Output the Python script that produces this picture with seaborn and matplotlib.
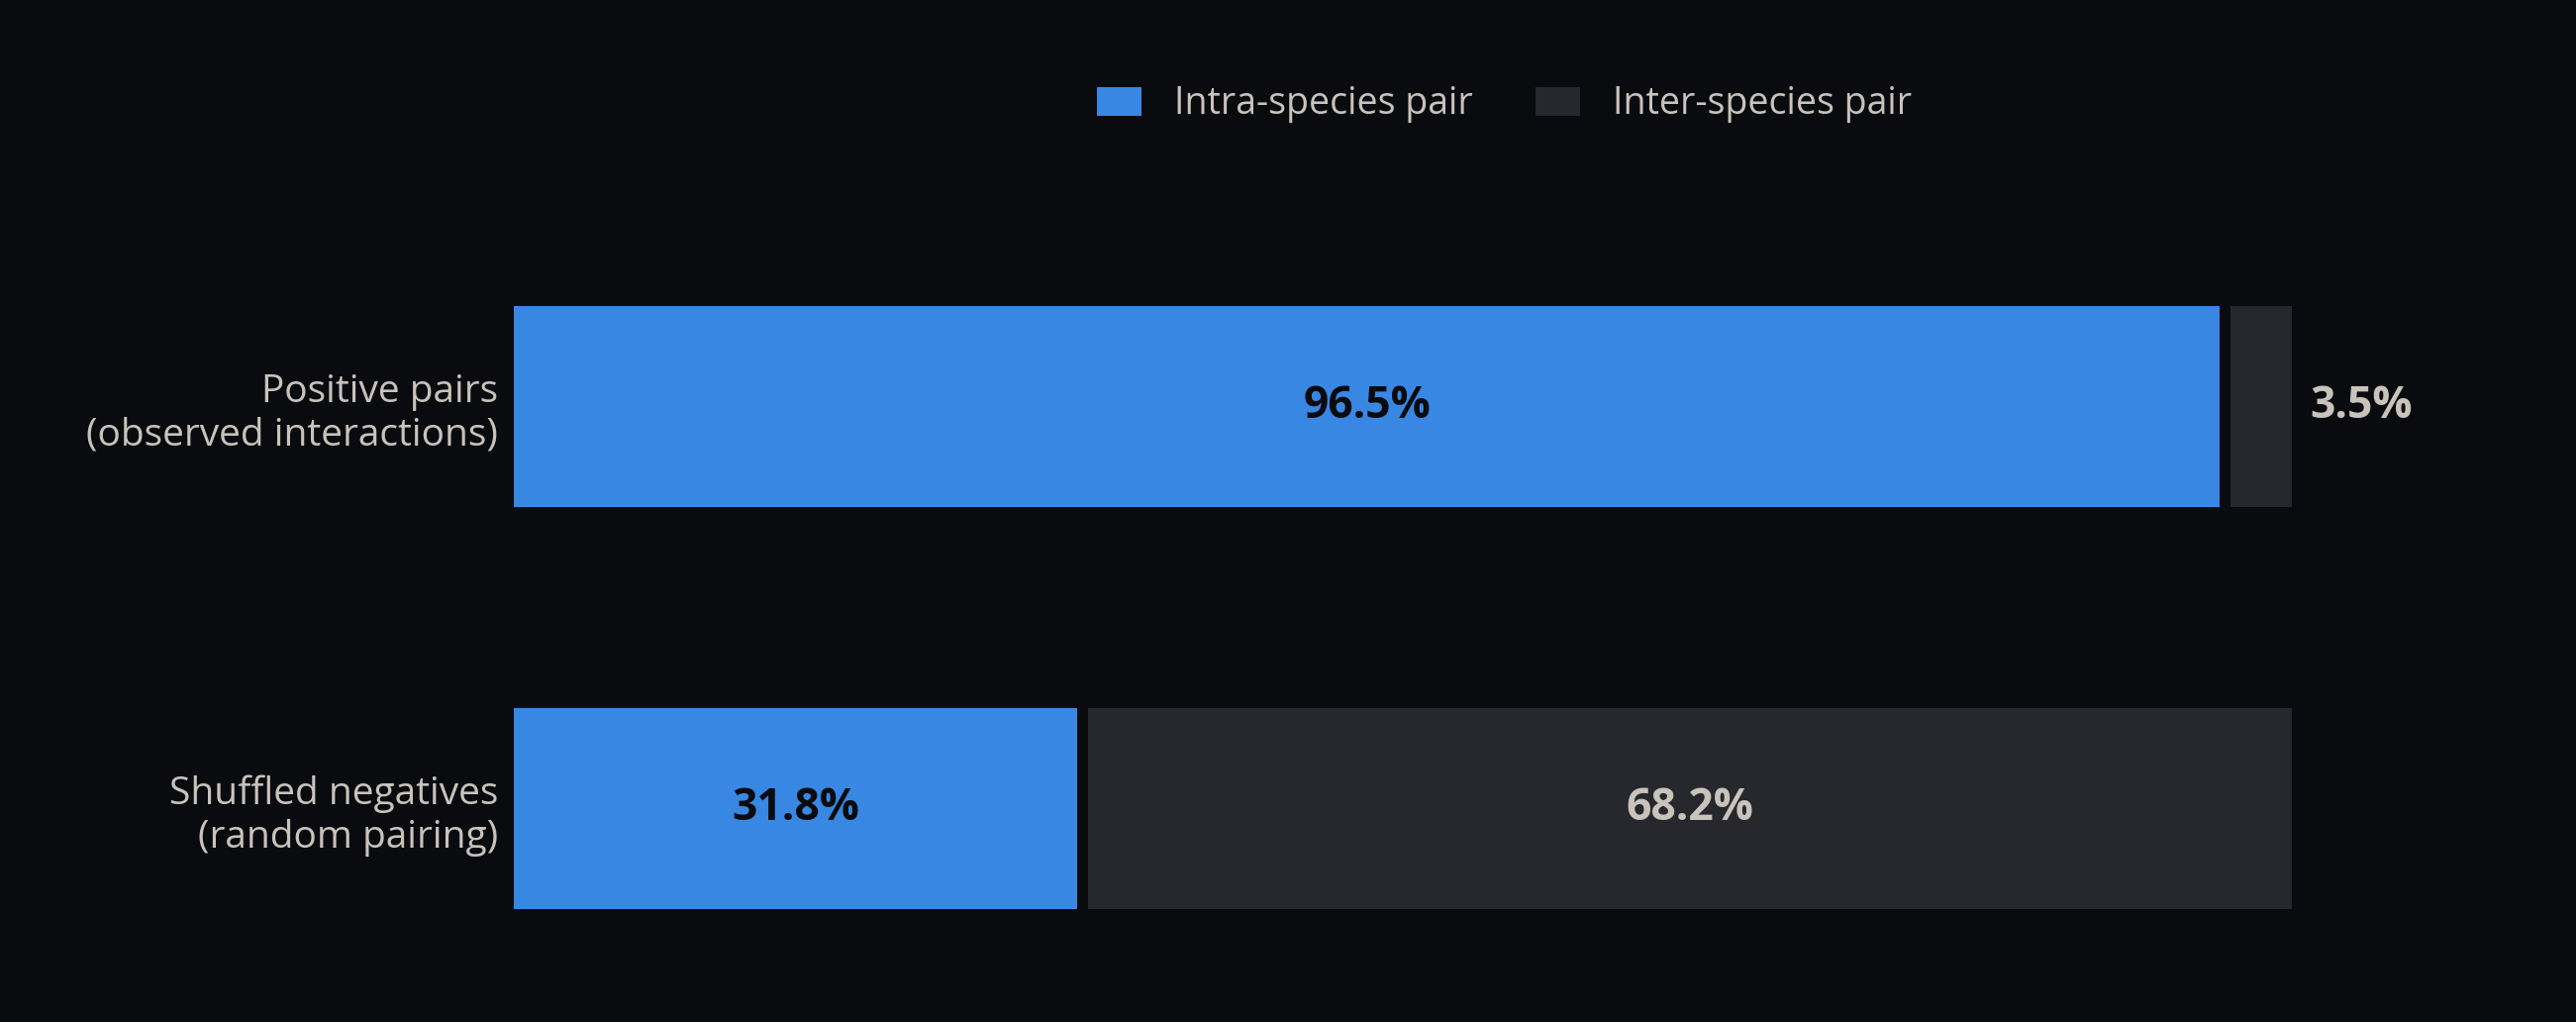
import pandas as pd
import seaborn as sns
import matplotlib.pyplot as plt
from matplotlib.patches import Patch

# %% DATA
categories = ['Positive pairs\n(observed interactions)', 'Shuffled negatives\n(random pairing)']
intra = [96.5, 31.8]
inter = [3.5, 68.2]
series_names = ['Intra-species pair', 'Inter-species pair']

BG = '#0a0b0f'
BLUE = '#3887e3'
GREY = '#27282d'
TXT = '#c8c3bb'

df = pd.DataFrame({'cat': categories, 'intra': intra, 'inter': inter})
df['total'] = df['intra'] + df['inter']

# %% PLOT
sns.set_style('dark')
plt.rcParams['font.family'] = ['Open Sans', 'DejaVu Sans']

W, H, DPI = 2602, 1032, 200
fig = plt.figure(figsize=(W / DPI, H / DPI), dpi=DPI, facecolor=BG)
ax = fig.add_axes([0.2019, 0.0121, 0.6856, 0.787])
ax.set_facecolor(BG)

sns.barplot(data=df, y='cat', x='total', orient='h', color=GREY, width=0.5,
            linewidth=0, saturation=1, ax=ax)
sns.barplot(data=df, y='cat', x='intra', orient='h', color=BLUE, width=0.5,
            linewidth=0, saturation=1, ax=ax)

ax.set_xlim(0, 100)
ax.set_ylim(1.5, -0.5)

# segments stick out a little at the outer ends and leave a small gap between them
px = 100 / (0.6856 * W)   # data units per pixel
ext, gap_l, gap_r = 6 * px, 5 * px, 6 * px
for p, a in zip(ax.containers[0], intra):
    x1 = p.get_x() + p.get_width() + ext
    p.set_x(a + gap_r)
    p.set_width(x1 - (a + gap_r))
    p.set_clip_on(False)
for p, a in zip(ax.containers[1], intra):
    p.set_x(-ext)
    p.set_width(a - gap_l + ext)
    p.set_clip_on(False)

ax.set_xlabel('')
ax.set_ylabel('')
ax.set_xticks([])
ax.tick_params(axis='y', length=0, pad=8, labelsize=14, labelcolor=TXT)
for s in ax.spines.values():
    s.set_visible(False)
ax.grid(False)

# value labels, centred on the visible segments
for i, (a, b) in enumerate(zip(intra, inter)):
    pb = ax.containers[1][i]
    pg = ax.containers[0][i]
    ax.text(pb.get_x() + pb.get_width() / 2, i, f'{a:.1f}%', ha='center', va='center',
            fontsize=16, fontweight='bold', color=BG)
    if b < 10:
        ax.annotate(f'{b:.1f}%', xy=(a + b, i), xytext=(8.6, 0),
                    textcoords='offset points', ha='left', va='center',
                    fontsize=16, fontweight='bold', color=TXT, annotation_clip=False)
    else:
        ax.text(pg.get_x() + pg.get_width() / 2, i, f'{b:.1f}%', ha='center', va='center',
                fontsize=16, fontweight='bold', color=TXT)

handles = [Patch(facecolor=BLUE, edgecolor='none'), Patch(facecolor=GREY, edgecolor='none')]
fig.legend(handles, series_names, loc='center', bbox_to_anchor=(0.584, 0.898), ncol=2,
           frameon=False, fontsize=13.5, labelcolor=TXT, handlelength=1.2,
           handleheight=0.82, handletextpad=0.87, columnspacing=1.7)

fig.savefig('out.png', dpi=DPI, facecolor=BG)
